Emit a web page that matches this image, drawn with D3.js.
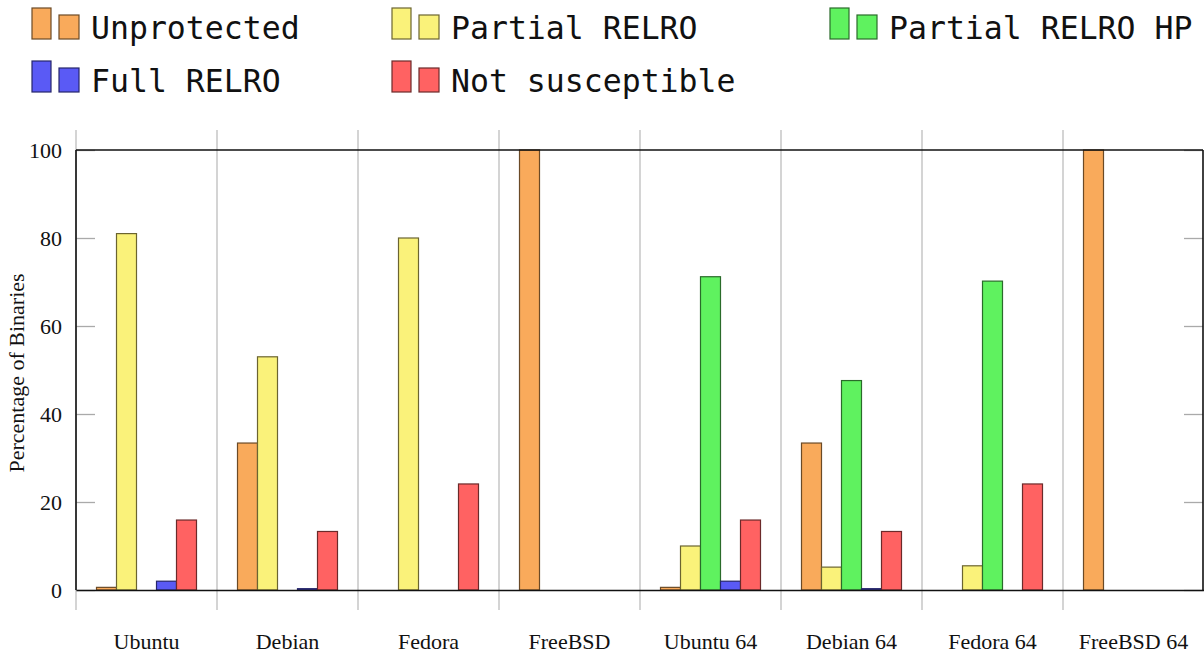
<!DOCTYPE html>
<html>
<head>
<meta charset="utf-8">
<script src="https://cdn.jsdelivr.net/npm/d3@7"></script>
<style>
  body { margin: 0; background: #fff; }
  svg { display: block; }
</style>
</head>
<body>
<svg id="chart"></svg>
<script>
// chart size
var width = 1204;
var height = 653;

// data
var systems = ['Ubuntu', 'Debian', 'Fedora', 'FreeBSD', 'Ubuntu 64', 'Debian 64', 'Fedora 64', 'FreeBSD 64'];
var seriesNames = ['Unprotected', 'Partial RELRO', 'Partial RELRO HP', 'Full RELRO', 'Not susceptible'];
var unprotected    = [0.6, 33.4, 0, 100, 0.6, 33.4, 0, 100];
var partialRelro   = [81, 53, 80, 0, 10, 5.2, 5.5, 0];
var partialRelroHP = [0, 0, 0, 0, 71.2, 47.6, 70.2, 0];
var fullRelro      = [2, 0.3, 0, 0, 2, 0.3, 0, 0];
var notSusceptible = [15.9, 13.3, 24.1, 0, 15.9, 13.3, 24.1, 0];
var yTicks = [0, 20, 40, 60, 80, 100];

var seriesValues = [unprotected, partialRelro, partialRelroHP, fullRelro, notSusceptible];
var fills   = ['#f9aa5b', '#faf27a', '#5ff25f', '#5a5af5', '#ff6262'];
var strokes = ['#6b4a26', '#6b6430', '#2a6b2a', '#26266b', '#6b2a2a'];

// plot area (don't name these top/left - window.top is readonly)
var plotLeft = 76, plotRight = 1203, plotTop = 150, plotBottom = 590;

var x = d3.scaleBand()
  .domain(systems)
  .range([plotLeft, 1204]);

var xInner = d3.scaleBand()
  .domain(seriesNames)
  .range([0, 100]);

var y = d3.scaleLinear()
  .domain([0, 100])
  .range([plotBottom, plotTop]);

var svg = d3.select('#chart')
  .attr('width', width)
  .attr('height', height);

// vertical separators between groups
svg.append('g')
  .selectAll('line')
  .data(systems)
  .enter()
    .append('line')
      .attr('x1', d => x(d))
      .attr('x2', d => x(d))
      .attr('y1', 130)
      .attr('y2', 610)
      .attr('stroke', '#bdbdbd')
      .attr('stroke-width', 1.3);

// y axis (left) with inner ticks
var yAxis = svg.append('g')
  .attr('transform', 'translate(' + plotLeft + ',0)')
  .call(d3.axisLeft(y).tickValues(yTicks).tickSizeInner(-19).tickSizeOuter(0).tickPadding(14));
yAxis.select('.domain').remove();
yAxis.selectAll('.tick line').attr('stroke', '#aaa').attr('stroke-width', 1.3);
yAxis.selectAll('.tick text')
  .attr('font-family', 'Liberation Serif, serif')
  .attr('font-size', 22)
  .attr('fill', '#111');

// right side ticks
var yAxisR = svg.append('g')
  .attr('transform', 'translate(' + plotRight + ',0)')
  .call(d3.axisRight(y).tickValues(yTicks).tickSizeInner(-19).tickSizeOuter(0).tickFormat(''));
yAxisR.select('.domain').remove();
yAxisR.selectAll('.tick line').attr('stroke', '#aaa').attr('stroke-width', 1.3);

// bars
var groups = svg.append('g')
  .selectAll('g')
  .data(seriesValues)
  .enter()
    .append('g')
      .attr('fill', (d, i) => fills[i])
      .attr('stroke', (d, i) => strokes[i]);

groups.each(function(vals, si) {
  d3.select(this)
    .selectAll('rect')
    .data(vals.map((v, gi) => ({ sys: systems[gi], v: v })).filter(d => d.v > 0))
    .enter()
      .append('rect')
        .attr('x', d => x(d.sys) + (x.bandwidth() - 100) / 2 + xInner(seriesNames[si]))
        .attr('width', xInner.bandwidth())
        .attr('y', d => y(d.v))
        .attr('height', d => y(0) - y(d.v))
        .attr('stroke-width', 1.2);
});

// frame
svg.append('line').attr('x1', plotLeft).attr('x2', plotRight).attr('y1', plotTop).attr('y2', plotTop)
  .attr('stroke', '#111').attr('stroke-width', 1.6);
svg.append('line').attr('x1', plotLeft).attr('x2', plotLeft).attr('y1', plotTop).attr('y2', plotBottom)
  .attr('stroke', '#111').attr('stroke-width', 1.6);
svg.append('line').attr('x1', plotRight).attr('x2', plotRight).attr('y1', plotTop).attr('y2', plotBottom)
  .attr('stroke', '#111').attr('stroke-width', 1.6);

// x axis
var xAxis = svg.append('g')
  .attr('transform', 'translate(0,' + plotBottom + ')')
  .call(d3.axisBottom(x).tickSize(0).tickPadding(43));
xAxis.select('.domain').attr('stroke', '#111').attr('stroke-width', 1.6);
xAxis.selectAll('.tick text')
  .attr('font-family', 'Liberation Serif, serif')
  .attr('font-size', 22)
  .attr('fill', '#111');

// y axis title
svg.append('text')
  .attr('transform', 'translate(24,373) rotate(-90)')
  .attr('text-anchor', 'middle')
  .attr('font-family', 'Liberation Serif, serif')
  .attr('font-size', 22)
  .attr('fill', '#111')
  .text('Percentage of Binaries');

// legend: two bars (tall + short) then label, like pgfplots ybar legend
var legendX = [32, 392, 830];
var legendY = [39, 92];
var legend = svg.append('g')
  .selectAll('g')
  .data(seriesNames)
  .enter()
    .append('g')
      .attr('transform', (d, i) => 'translate(' + legendX[i % 3] + ',' + legendY[Math.floor(i / 3)] + ')');

legend.append('rect')
  .attr('x', 0).attr('y', -31).attr('width', 19).attr('height', 31)
  .attr('fill', (d, i) => fills[i]).attr('stroke', (d, i) => strokes[i]).attr('stroke-width', 1.2);
legend.append('rect')
  .attr('x', 27).attr('y', -24).attr('width', 20).attr('height', 24)
  .attr('fill', (d, i) => fills[i]).attr('stroke', (d, i) => strokes[i]).attr('stroke-width', 1.2);
legend.append('text')
  .attr('x', 59)
  .attr('y', 0)
  .attr('font-family', 'DejaVu Sans Mono, monospace')
  .attr('font-size', 31.5)
  .attr('fill', '#111')
  .text(d => d);
</script>
</body>
</html>
